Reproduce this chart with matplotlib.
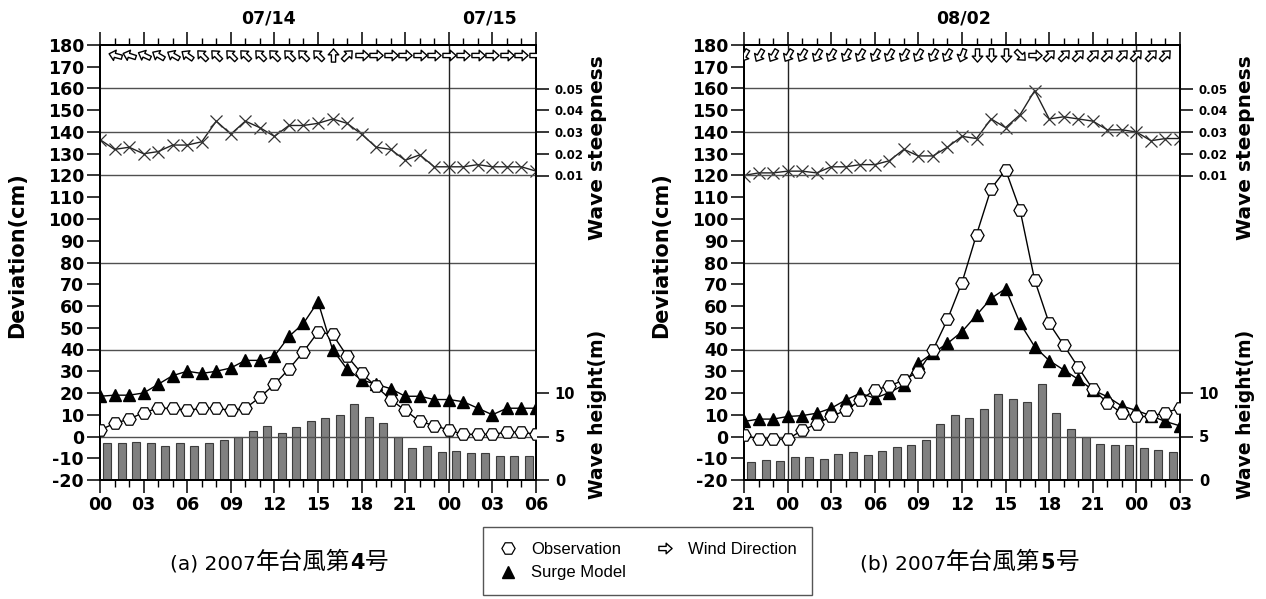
import numpy as np
import matplotlib
matplotlib.use("Agg")
import matplotlib.pyplot as plt
from matplotlib.path import Path
from matplotlib.markers import MarkerStyle
from matplotlib.transforms import Affine2D
from matplotlib.lines import Line2D
from matplotlib.text import Annotation

# ---------------- data ----------------
hours = list(range(31))
tick_labels_a = ["00", "03", "06", "09", "12", "15", "18", "21", "00", "03", "06"]
tick_labels_b = ["21", "00", "03", "06", "09", "12", "15", "18", "21", "00", "03"]

# (a) Typhoon No.4, 2007  (deviation in cm, hourly)
obs_a = [3, 6, 8, 11, 13, 13, 12, 13, 13, 12, 13, 18, 24, 31, 39, 48, 47, 37, 29, 23,
         17, 12, 7, 5, 3, 1, 1, 1, 2, 2, 1]
surge_a = [18.5, 19, 19, 20, 24, 28, 30, 29, 30, 31.5, 35, 35, 37, 46, 52, 62, 40, 31, 26, 24,
           22, 18.5, 18.5, 17, 17, 16, 13, 10, 13, 13, 13]
steep_a = [0.0265, 0.022, 0.023, 0.020, 0.021, 0.024, 0.024, 0.0255, 0.035, 0.029, 0.035,
           0.032, 0.028, 0.033, 0.033, 0.034, 0.036, 0.034, 0.029, 0.023, 0.022, 0.017,
           0.0195, 0.014, 0.014, 0.014, 0.015, 0.014, 0.014, 0.014, 0.012]
wave_a = [4.22, 4.30, 4.38, 4.30, 3.95, 4.30, 3.95, 4.30, 4.65, 5.00, 5.65, 6.25, 5.43, 6.05,
          6.75, 7.13, 7.50, 8.75, 7.25, 6.50, 5.00, 3.65, 3.95, 3.20, 3.35, 3.05, 3.05,
          2.78, 2.78, 2.78]
wind_a = [None, 165, 162, 155, 150, 150, 145, 135, 135, 135, 135, 135, 135, 135, 135, 135,
          90, 45, 0, 0, 0, 0, 0, 0, 0, 0, 0, 0, 0, 0, 0]

# (b) Typhoon No.5, 2007
obs_b = [0.8, -1.2, -1.2, -1.2, 2.8, 5.8, 9.2, 12, 16.8, 21.4, 23.2, 26, 29.8, 39.8, 53.8,
         70.8, 92.8, 113.9, 122.6, 104, 71.9, 52, 42, 31.8, 21.7, 15.6, 10.7, 9.2, 9.2, 11, 13]
surge_b = [6.9, 8, 8, 9.2, 9.6, 10.7, 13, 16.8, 19.9, 17.6, 20.2, 23.7, 33.6, 38.4, 42.8,
           48.2, 55.8, 63.5, 68, 52, 41.3, 34.9, 30.6, 26.3, 21.4, 18.3, 14, 12, 9.5, 6.9, 4.9]
steep_b = [0.010, 0.0112, 0.0112, 0.012, 0.012, 0.0112, 0.014, 0.014, 0.015, 0.015, 0.0168,
           0.022, 0.019, 0.019, 0.023, 0.028, 0.027, 0.036, 0.032, 0.038, 0.049, 0.036,
           0.037, 0.036, 0.035, 0.031, 0.031, 0.030, 0.026, 0.027, 0.027]
wave_b = [2.03, 2.33, 2.13, 2.63, 2.63, 2.45, 3.00, 3.18, 2.90, 3.35, 3.85, 3.98, 4.63, 6.45,
          7.48, 7.10, 8.20, 9.93, 9.35, 8.93, 11.00, 7.75, 5.85, 5.00, 4.13, 3.98, 3.98,
          3.65, 3.40, 3.25]
wind_b = [240, 240, 240, 240, 240, 240, 240, 240, 240, 240, 240, 240, 240, 240, 240, 250,
          270, 270, 270, 315, 0, 45, 45, 45, 45, 45, 45, 45, 45, 45, None]

# ---------------- style ----------------
W, H = 1266, 599
fig = plt.figure(figsize=(W / 100, H / 100), dpi=100)
TICKFONT = dict(family="DejaVu Sans", weight="bold")
GRID = "#505050"

arrow_verts = [(-1, -0.32), (0.1, -0.32), (0.1, -0.8), (1, 0), (0.1, 0.8), (0.1, 0.32),
               (-1, 0.32), (-1, -0.32)]
arrow_path = Path(arrow_verts, [Path.MOVETO] + [Path.LINETO] * 6 + [Path.CLOSEPOLY])


def arrow_marker(angle):
    return MarkerStyle(arrow_path, transform=Affine2D().rotate_deg(angle))


def panel(left_px, obs, surge, steep, wave, wind, xlabels, vlines, dates, lab_x):
    ax = fig.add_axes([left_px / W, (H - 480) / H, 436 / W, 435 / H])
    ax_h = ax.twinx()
    ax_s = ax.twinx()
    ax.set_zorder(3)
    ax.patch.set_visible(False)

    ax.set_xlim(0, 30)
    ax.set_ylim(-20, 180)
    ax_h.set_ylim(0, 50)
    ax_s.set_ylim(-0.13, 0.07)

    # grid lines
    for v in [0, 40, 80, 120, 140, 160]:
        ax.axhline(v, color=GRID, lw=1.0, zorder=0.5)
    for v in vlines:
        ax.axvline(v, color="#222222", lw=1.0, zorder=0.5)

    # wave height bars
    ax_h.bar(np.array(hours[:-1]) + 0.5, wave, width=0.55, color="#808080",
             edgecolor="#3c3c3c", lw=0.8, zorder=2)

    # wave steepness
    ax_s.plot(hours, steep, color="#222222", lw=1.0, marker="x", ms=8, mew=0.9,
              mec="#333333", zorder=3)

    # surge model and observation
    ax.plot(hours, surge, color="black", lw=1.0, marker="^", ms=8.5, mfc="black",
            mec="black", zorder=4)
    ax.plot(hours, obs, color="black", lw=1.0, marker="H", ms=9.5, mfc="white",
            mec="black", mew=0.9, zorder=5)

    # wind direction arrows
    for h, a in zip(hours, wind):
        if a is None:
            continue
        ax.plot([h], [175.5], linestyle="none", marker=arrow_marker(a), ms=9.5,
                mfc="white", mec="black", mew=1.0, zorder=6)

    # ticks
    ax.set_xticks(range(0, 31, 3))
    ax.set_xticks(range(31), minor=True)
    ax.set_xticklabels(xlabels, fontsize=12.5, **TICKFONT)
    ax.tick_params(axis="x", which="major", direction="out", length=9.5, width=1.1,
                   top=True, bottom=True, pad=2)
    ax.tick_params(axis="x", which="minor", direction="out", length=5, width=1.0,
                   top=True, bottom=True)
    ax.set_yticks(range(-20, 181, 10))
    ax.set_yticklabels([str(v) for v in range(-20, 181, 10)], fontsize=12.5, **TICKFONT)
    ax.tick_params(axis="y", direction="out", length=9.5, width=1.1, pad=2, right=False)

    ax_h.set_yticks([0, 5, 10])
    ax_h.set_yticklabels(["0", "5", "10"], fontsize=10.5, **TICKFONT)
    ax_h.tick_params(axis="y", direction="out", length=9.5, width=1.1, pad=4)
    ax_s.set_yticks([0.01, 0.02, 0.03, 0.04, 0.05])
    ax_s.set_yticklabels(["0.01", "0.02", "0.03", "0.04", "0.05"], fontsize=8.5, **TICKFONT)
    ax_s.tick_params(axis="y", direction="out", length=9.5, width=1.1, pad=4)

    for a in (ax, ax_h, ax_s):
        for s in a.spines.values():
            s.set_linewidth(1.3)
            s.set_color("black")

    # axis labels
    ax.text(-0.19, 0.517, "Deviation(cm)", transform=ax.transAxes, rotation=90,
            ha="center", va="center", fontsize=15, **TICKFONT)
    ax.text(lab_x, 0.765, "Wave steepness", transform=ax.transAxes, rotation=90,
            ha="center", va="center", fontsize=14.5, **TICKFONT)
    ax.text(lab_x, 0.15, "Wave height(m)", transform=ax.transAxes, rotation=90,
            ha="center", va="center", fontsize=13.5, **TICKFONT)

    # date labels on top
    for x, lab in dates:
        ax.text(x, 1.062, lab, transform=ax.get_xaxis_transform(), ha="center",
                va="center", fontsize=12.5, **TICKFONT)
    return ax


panel(100, obs_a, surge_a, steep_a, wave_a, wind_a, tick_labels_a, [24],
      [(11.6, "07/14"), (26.8, "07/15")], 1.14)
panel(744, obs_b, surge_b, steep_b, wave_b, wind_b, tick_labels_b, [3, 27],
      [(15.1, "08/02")], 1.15)


# captions: pieces chained so each follows the previous one on the same baseline
def caption(x0_px, letter, num):
    y = (H - 569) / H
    prev = fig.text(x0_px / W, y, f"({letter}) 2007", fontsize=14.5, family="DejaVu Sans",
                    va="baseline", ha="left")
    parts = [("年台風第", dict(family="Noto Sans CJK JP", fontsize=17)),
             (num, dict(family="DejaVu Sans", weight="bold", fontsize=15)),
             ("号", dict(family="Noto Sans CJK JP", fontsize=17))]
    for s, kw in parts:
        prev = fig.add_artist(Annotation(s, xy=(1, y), xycoords=(prev, "figure fraction"),
                                         va="baseline", ha="left", **kw))


caption(170, "a", "4")
caption(860, "b", "5")

# legend
handles = [
    Line2D([], [], linestyle="none", marker="H", ms=9.5, mfc="white", mec="black", mew=0.9),
    Line2D([], [], linestyle="none", marker="^", ms=8.5, mfc="black", mec="black"),
    Line2D([], [], linestyle="none", marker=arrow_marker(0), ms=9.5, mfc="white",
           mec="black", mew=1.0),
]
labels = ["Observation", "Surge Model", "Wind Direction"]
leg = fig.legend(handles, labels, ncol=2, loc="upper left",
                 bbox_to_anchor=(483 / W, 1 - 527 / H), borderaxespad=0,
                 frameon=True, fancybox=False, edgecolor="#555555", framealpha=1,
                 prop=dict(family="Liberation Sans", size=12), handlelength=1.2,
                 handletextpad=0.8, columnspacing=1.7, labelspacing=0.5,
                 borderpad=0.9)
leg.get_frame().set_linewidth(1.0)

fig.savefig("out.png", dpi=100)
